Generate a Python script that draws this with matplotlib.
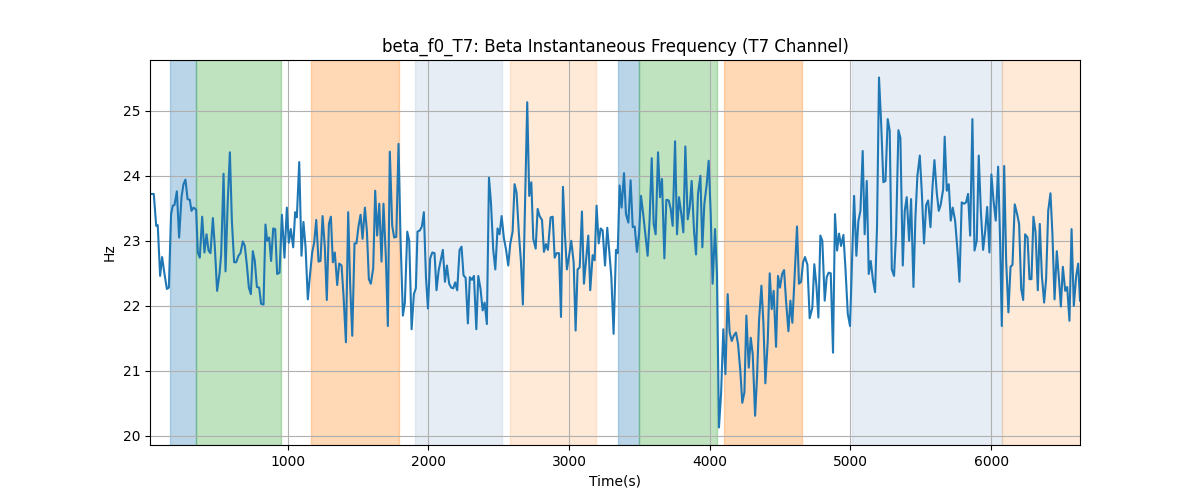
import matplotlib
matplotlib.use('Agg')
import matplotlib.pyplot as plt

# time (s) and beta instantaneous frequency (Hz)
time_s = [
    20, 47, 64, 75, 92, 106, 123, 140, 154, 170, 182, 194, 211, 227, 244, 258, 272, 287, 303, 315,
    329, 348, 360, 374, 391, 407, 422, 436, 450, 467, 481, 497, 514, 526, 543, 557, 573, 588, 602, 618,
    633, 649, 663, 680, 694, 709, 723, 737, 751, 765, 780, 796, 810, 827, 841, 853, 867, 881, 896, 910,
    924, 941, 958,
    976, 993, 1007, 1021, 1038, 1052, 1064, 1081, 1097, 1111, 1126, 1142, 1156, 1173, 1187, 1202, 1218,
    1232, 1247, 1263, 1277, 1292, 1306, 1320, 1334, 1351, 1365, 1382, 1396, 1413, 1429, 1443, 1458, 1474,
    1488, 1503, 1517, 1531, 1548, 1562, 1576, 1590, 1607, 1621, 1635, 1650, 1666, 1680, 1697, 1711, 1725,
    1742, 1756, 1771, 1787, 1801, 1818, 1832, 1849, 1863, 1880, 1896,
    1910, 1922, 1939, 1953, 1967, 1982, 1996, 2012, 2027, 2043, 2057, 2072, 2086, 2102, 2117, 2131, 2147,
    2162, 2176, 2190, 2204, 2221, 2235, 2249, 2264, 2280, 2294, 2309, 2323, 2340, 2354, 2370, 2385, 2399,
    2415, 2430, 2444, 2460, 2475, 2491, 2505, 2520, 2536, 2551, 2567, 2581, 2598, 2612, 2626, 2643, 2657,
    2671, 2688, 2702, 2716, 2731, 2745, 2762, 2776, 2790, 2807, 2821, 2835,
    2849, 2868, 2883, 2897, 2911, 2928, 2942, 2956, 2970, 2984, 3001, 3015, 3032, 3046, 3060, 3075, 3091,
    3105, 3122, 3136, 3150, 3167, 3181, 3195, 3210, 3224, 3238, 3255, 3271, 3286, 3300, 3316, 3333, 3345,
    3359, 3373, 3390, 3404, 3421, 3437, 3452, 3466, 3482, 3497, 3511, 3527, 3544, 3558, 3572, 3587, 3601,
    3615, 3632, 3646, 3660, 3677, 3691, 3708, 3722, 3736, 3753, 3767, 3781,
    3798, 3812, 3826, 3843, 3857, 3871, 3888, 3902, 3916, 3933, 3947, 3961, 3978, 3992, 4006, 4020, 4037,
    4051, 4065, 4080, 4096, 4111, 4127, 4141, 4156, 4170, 4186, 4201, 4217, 4231, 4246, 4260, 4277, 4291,
    4305, 4322, 4336, 4350, 4367, 4381, 4395, 4412, 4426, 4440, 4454, 4471, 4485, 4499, 4514, 4528, 4542,
    4559, 4573, 4587, 4604, 4620, 4634, 4649, 4663, 4677, 4694, 4710,
    4729, 4743, 4758, 4772, 4786, 4800, 4817, 4831, 4845, 4860, 4876, 4890, 4905, 4919, 4933, 4950, 4964,
    4981, 4997, 5011, 5026, 5042, 5056, 5071, 5087, 5101, 5116, 5130, 5144, 5161, 5175, 5189, 5203, 5218,
    5234, 5249, 5265, 5279, 5294, 5310, 5324, 5341, 5355, 5372, 5386, 5400, 5417, 5431, 5448, 5462, 5476,
    5493, 5507, 5523, 5538, 5552, 5569, 5583, 5597, 5614, 5628, 5642, 5659,
    5670, 5685, 5699, 5713, 5727, 5744, 5761, 5775, 5791, 5808, 5822, 5836, 5851, 5867, 5882, 5898, 5912,
    5927, 5943, 5958, 5972, 5988, 6002, 6017, 6033, 6050, 6064, 6076, 6093, 6107, 6123, 6138, 6152, 6168,
    6185, 6199, 6214, 6228, 6242, 6259, 6273, 6287, 6301, 6316, 6332, 6346, 6361, 6377, 6391, 6406, 6422,
    6436, 6451, 6467, 6481, 6496, 6510, 6527, 6541, 6557, 6572, 6588, 6605, 6619, 6632,
]
freq_hz = [
    23.72, 23.72, 23.23, 23.24, 22.46, 22.75, 22.49, 22.26, 22.28, 23.41, 23.54, 23.55, 23.76, 23.05, 23.67,
    23.87, 23.94, 23.64, 23.63, 23.46, 23.51, 23.48, 22.82, 22.74, 23.37, 22.82, 23.10, 22.85, 22.81, 23.35,
    22.90, 22.23, 22.49, 22.79, 24.03, 22.53, 23.62, 24.36, 23.31, 22.67, 22.67, 22.77, 22.81, 22.99, 22.92,
    22.62, 22.28, 22.18, 22.84, 22.69, 22.29, 22.28, 22.03, 22.02, 23.25, 23.00, 23.05, 22.69, 23.19, 23.18,
    22.49, 22.51, 23.40,
    22.74, 23.51, 22.97, 23.18, 22.90, 23.44, 23.36, 24.21, 22.77, 23.29, 22.90, 22.10, 22.44, 22.82, 22.97,
    23.32, 22.68, 22.69, 23.38, 22.90, 22.09, 23.26, 23.37, 22.67, 22.82, 22.32, 22.65, 22.62, 22.15, 21.44,
    23.44, 22.33, 21.54, 22.96, 22.96, 23.23, 23.40, 23.03, 23.51, 23.15, 22.41, 22.34, 22.58, 23.77, 23.08,
    23.57, 22.68, 23.57, 22.74, 21.69, 24.37, 23.23, 23.05, 23.06, 24.49, 23.05, 21.85, 22.05, 23.14, 23.00,
    21.64, 22.18,
    22.27, 23.14, 23.16, 23.22, 23.44, 22.44, 21.96, 22.73, 22.82, 22.81, 22.24, 22.54, 22.69, 22.86, 22.37,
    22.62, 22.34, 22.28, 22.27, 22.36, 22.24, 22.86, 22.91, 22.47, 22.43, 21.73, 22.44, 22.40, 22.46, 21.64,
    22.46, 22.26, 21.93, 22.05, 21.72, 23.97, 23.59, 22.87, 22.56, 23.19, 23.10, 23.38, 23.04, 22.87, 22.62,
    22.95, 23.14, 23.87, 23.74, 23.10, 22.69, 22.02, 23.72, 25.13, 23.69, 23.90, 23.03, 22.88, 23.49, 23.38,
    23.32, 22.83, 22.95,
    22.86, 23.36, 23.37, 22.74, 22.81, 22.81, 21.83, 23.83, 23.10, 22.56, 22.79, 23.00, 22.67, 21.62, 22.56,
    22.59, 23.45, 22.34, 22.74, 23.08, 22.24, 22.78, 22.70, 23.54, 22.96, 23.19, 23.16, 22.62, 23.20, 22.82,
    22.44, 21.57, 22.86, 22.81, 23.85, 23.51, 24.04, 23.41, 23.28, 23.93, 23.21, 23.22, 22.83, 23.10, 23.69,
    23.40, 23.05, 22.77, 23.32, 24.27, 23.26, 23.10, 24.36, 23.67, 23.95, 22.73, 23.63, 23.62, 23.49, 23.23,
    24.53, 23.10, 23.67,
    23.40, 23.13, 24.45, 23.33, 23.51, 23.92, 23.15, 22.79, 23.72, 24.00, 22.90, 23.56, 23.87, 24.23, 23.44,
    22.34, 23.18, 22.49, 20.13, 20.64, 21.64, 20.95, 22.18, 21.59, 21.46, 21.54, 21.59, 21.41, 21.00, 20.51,
    20.67, 21.85, 21.05, 21.51, 21.26, 20.31, 20.92, 21.77, 22.31, 21.74, 20.81, 21.46, 22.50, 21.95, 22.23,
    21.37, 22.46, 22.28, 22.49, 22.55, 22.08, 21.61, 22.08, 21.74, 22.49, 23.22, 22.34, 22.37, 22.67, 22.75,
    22.63, 21.81,
    21.97, 22.64, 22.31, 21.82, 23.08, 23.00, 22.08, 22.44, 22.51, 22.50, 21.28, 23.41, 22.85, 23.11, 22.92,
    23.09, 22.59, 21.88, 21.69, 22.69, 23.69, 22.77, 23.30, 23.46, 24.38, 23.10, 23.92, 22.49, 22.69, 22.38,
    22.21, 23.23, 25.51, 24.82, 23.90, 23.92, 24.87, 24.69, 22.56, 22.46, 23.10, 24.70, 24.58, 22.62, 23.46,
    23.67, 23.00, 23.64, 22.29, 23.37, 24.00, 24.31, 23.76, 22.96, 23.55, 23.62, 23.21, 23.82, 24.24, 23.73,
    23.46, 23.56, 23.79,
    24.60, 23.77, 23.87, 23.31, 23.51, 23.31, 22.85, 22.37, 23.59, 23.57, 23.59, 23.72, 23.08, 24.87, 22.85,
    23.00, 24.31, 23.46, 22.86, 23.15, 23.52, 22.82, 24.02, 23.62, 23.31, 24.14, 23.00, 21.69, 24.15, 22.69,
    21.90, 22.60, 22.63, 23.56, 23.41, 23.26, 22.26, 22.09, 23.10, 23.05, 22.41, 22.41, 23.37, 23.13, 22.24,
    23.26, 22.46, 22.05, 22.41, 23.46, 23.73, 23.10, 22.10, 22.84, 22.45, 21.99, 22.60, 22.23, 22.29, 21.77,
    23.18, 22.00, 22.46, 22.65, 22.08,
]

# shaded segments: (start, end, colour, alpha)
span_start = [161, 346, 1164, 1901, 2581, 3347, 3494, 4103, 5009, 6074]
span_end = [346, 948, 1787, 2522, 3188, 3494, 4049, 4653, 6074, 6700]
span_color = ['tab:blue', 'tab:green', 'tab:orange', 'lightsteelblue', 'tab:orange',
              'tab:blue', 'tab:green', 'tab:orange', 'lightsteelblue', 'tab:orange']
span_alpha = [0.3, 0.3, 0.3, 0.3, 0.16, 0.3, 0.3, 0.3, 0.3, 0.16]

fig, ax = plt.subplots(figsize=(12, 5), dpi=100)

for s, e, c, a in zip(span_start, span_end, span_color, span_alpha):
    ax.axvspan(s, e, color=c, alpha=a)

ax.plot(time_s, freq_hz, color='tab:blue', linewidth=1.5)
ax.set_xlim(time_s[0], time_s[-1])
ax.set_title('beta_f0_T7: Beta Instantaneous Frequency (T7 Channel)')
ax.set_xlabel('Time(s)')
ax.set_ylabel('Hz')
ax.grid(True)

fig.savefig('out.png')
